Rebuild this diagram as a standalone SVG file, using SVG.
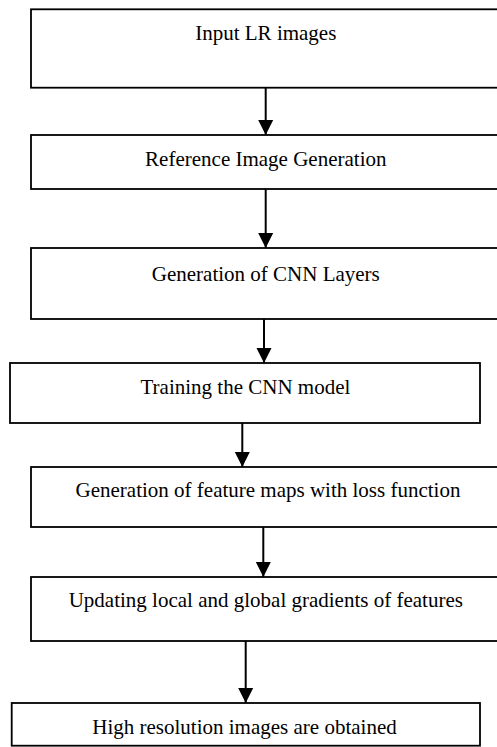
<svg xmlns="http://www.w3.org/2000/svg" width="497" height="747" viewBox="0 0 497 747">
<style>
.box{fill:#fff;stroke:#000;stroke-width:1.8}
.lbl{font-family:"Liberation Serif","Times New Roman",serif;font-size:21px;fill:#000;text-anchor:middle}
.con{stroke:#000;stroke-width:2;fill:none;marker-end:url(#ah)}
</style>
<defs>
<marker id="ah" markerUnits="userSpaceOnUse" markerWidth="16" markerHeight="16" viewBox="0 0 16 16" refX="15" refY="8" orient="auto">
<path d="M0,0.5 L15,8 L0,15.5 Z" fill="#000"/>
</marker>
</defs>
<rect width="497" height="747" fill="#fff"/>
<g id="connectors">
<line class="con" x1="265.7" y1="88" x2="265.7" y2="135"/>
<line class="con" x1="265.7" y1="189" x2="265.7" y2="248"/>
<line class="con" x1="264" y1="319" x2="264" y2="363"/>
<line class="con" x1="242.3" y1="423" x2="242.3" y2="467"/>
<line class="con" x1="263.3" y1="527" x2="263.3" y2="577"/>
<line class="con" x1="245.7" y1="641" x2="245.7" y2="703"/>
</g>
<g id="node1">
<rect class="box" x="31" y="9.3" width="470" height="78.4"/>
<text class="lbl" x="265.8" y="40">Input LR images</text>
</g>
<g id="node2">
<rect class="box" x="31" y="135" width="470" height="54"/>
<text class="lbl" x="265.8" y="166">Reference Image Generation</text>
</g>
<g id="node3">
<rect class="box" x="31" y="248" width="470" height="71"/>
<text class="lbl" x="265.8" y="280.5">Generation of CNN Layers</text>
</g>
<g id="node4">
<rect class="box" x="10" y="363" width="470" height="60"/>
<text class="lbl" x="245.4" y="394">Training the CNN model</text>
</g>
<g id="node5">
<rect class="box" x="31" y="467" width="470" height="60"/>
<text class="lbl" x="268" y="497">Generation of feature maps with loss function</text>
</g>
<g id="node6">
<rect class="box" x="31" y="577" width="470" height="64"/>
<text class="lbl" x="265.8" y="607">Updating local and global gradients of features</text>
</g>
<g id="node7">
<rect class="box" x="11.7" y="703" width="468.3" height="42.7"/>
<text class="lbl" x="244.5" y="734">High resolution images are obtained</text>
</g>
</svg>
